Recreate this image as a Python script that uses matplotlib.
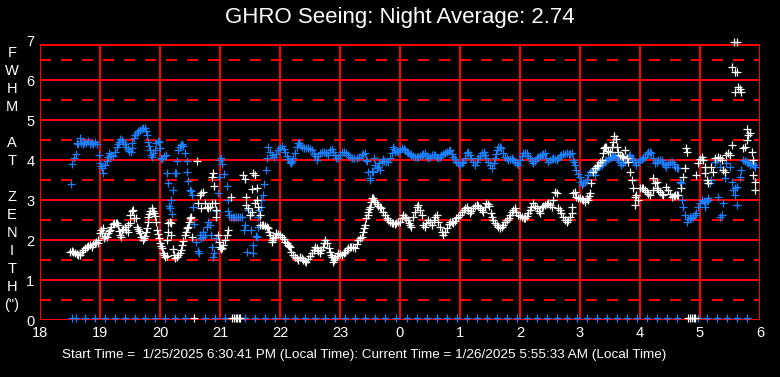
import matplotlib
matplotlib.use("Agg")
import matplotlib.pyplot as plt

plt.rcParams['font.family'] = ['Liberation Sans', 'DejaVu Sans']
plt.rcParams['lines.scale_dashes'] = False

title = "GHRO Seeing: Night Average: 2.74"
footer = "Start Time =  1/25/2025 6:30:41 PM (Local Time): Current Time = 1/26/2025 5:55:33 AM (Local Time)"
ylabel_letters = ['F', 'W', 'H', 'M', '', 'A', 'T', '', 'Z', 'E', 'N', 'I', 'T', 'H', '(")']
x_ticks = [18, 19, 20, 21, 22, 23, 24, 25, 26, 27, 28, 29, 30]
x_tick_labels = ['18', '19', '20', '21', '22', '23', '0', '1', '2', '3', '4', '5', '6']
y_ticks = [0, 1, 2, 3, 4, 5, 6, 7]

blue_pts = [
    (18.52, 3.40), (18.54, 3.90), (18.57, 4.05), (18.60, 4.15), (18.62, 4.42), (18.64, 4.40), (18.67, 4.55),
    (18.68, 4.42), (18.71, 4.40), (18.74, 4.44), (18.77, 4.42), (18.80, 4.47), (18.83, 4.40), (18.86, 4.43),
    (18.89, 4.40), (18.92, 4.45), (18.95, 4.40), (18.98, 4.12), (19.00, 3.92), (19.02, 3.85), (19.03, 3.80),
    (19.05, 3.67), (19.08, 3.87), (19.11, 3.97), (19.13, 4.08), (19.15, 4.17), (19.17, 4.10), (19.19, 4.12),
    (19.22, 4.10), (19.25, 4.20), (19.28, 4.33), (19.30, 4.40), (19.32, 4.46), (19.34, 4.52), (19.36, 4.50),
    (19.38, 4.46), (19.41, 4.40), (19.44, 4.33), (19.46, 4.27), (19.48, 4.23), (19.51, 4.21), (19.53, 4.30),
    (19.54, 4.42), (19.56, 4.55), (19.58, 4.62), (19.61, 4.67), (19.64, 4.72), (19.67, 4.75), (19.70, 4.78),
    (19.72, 4.80), (19.75, 4.80), (19.77, 4.72), (19.78, 4.62), (19.80, 4.45), (19.81, 4.35), (19.83, 4.25),
    (19.85, 4.12), (19.87, 4.08), (19.89, 4.18), (19.92, 4.25), (19.94, 4.42), (19.96, 4.48), (19.98, 4.46),
    (20.00, 4.30), (20.02, 4.05), (20.04, 4.02), (20.07, 4.10), (20.10, 4.12), (20.12, 3.67), (20.13, 3.42),
    (20.15, 2.85), (20.17, 2.80), (20.19, 3.00), (20.20, 2.65), (20.22, 3.25), (20.25, 3.68), (20.27, 3.67),
    (20.28, 3.98), (20.30, 4.25), (20.33, 4.32), (20.35, 4.38), (20.37, 4.40), (20.39, 4.35), (20.42, 4.18),
    (20.45, 3.98), (20.45, 3.70), (20.47, 3.48), (20.50, 3.25), (20.52, 3.22), (20.53, 3.12), (20.55, 2.83),
    (20.57, 2.40), (20.60, 1.95), (20.63, 1.72), (20.65, 1.67), (20.67, 2.12), (20.69, 2.04), (20.72, 2.20),
    (20.72, 2.08), (20.75, 2.12), (20.78, 2.33), (20.80, 2.45), (20.83, 2.37), (20.85, 2.12), (20.87, 1.83),
    (20.88, 1.57), (20.90, 1.67), (20.93, 2.05), (20.95, 2.72), (20.97, 3.17), (20.98, 3.57), (21.00, 4.00),
    (21.02, 4.05), (21.03, 3.90), (21.07, 3.65), (21.11, 3.35), (21.13, 3.00), (21.14, 2.72), (21.15, 2.62),
    (21.18, 2.57), (21.21, 2.57), (21.24, 2.57), (21.27, 2.57), (21.30, 2.57), (21.33, 2.57), (21.36, 2.57),
    (21.40, 2.25), (21.42, 2.37), (21.45, 1.70), (21.47, 2.75), (21.50, 2.62), (21.52, 2.25), (21.55, 1.87),
    (21.55, 1.67), (21.60, 2.10), (21.61, 2.08), (21.63, 2.33), (21.63, 2.58), (21.65, 2.75), (21.68, 2.83),
    (21.69, 3.00), (21.72, 3.12), (21.73, 3.40), (21.77, 3.75), (21.78, 4.04), (21.80, 4.33), (21.83, 4.21),
    (21.86, 4.12), (21.90, 4.08), (21.94, 4.15), (21.97, 4.25), (22.00, 4.30), (22.03, 4.35), (22.06, 4.28),
    (22.08, 4.21), (22.11, 4.10), (22.13, 4.02), (22.16, 3.95), (22.18, 3.92), (22.20, 3.98), (22.22, 4.04),
    (22.25, 4.17), (22.28, 4.33), (22.30, 4.42), (22.32, 4.43), (22.34, 4.38), (22.36, 4.33), (22.40, 4.30),
    (22.44, 4.30), (22.47, 4.30), (22.50, 4.28), (22.53, 4.25), (22.56, 4.15), (22.58, 4.10), (22.61, 4.00),
    (22.64, 4.10), (22.67, 4.17), (22.70, 4.20), (22.73, 4.21), (22.76, 4.18), (22.80, 4.12), (22.83, 4.25),
    (22.86, 4.27), (22.88, 4.21), (22.91, 4.12), (22.94, 4.05), (22.97, 4.04), (23.00, 4.12), (23.03, 4.20),
    (23.06, 4.20), (23.10, 4.17), (23.14, 4.12), (23.17, 4.08), (23.20, 4.05), (23.24, 4.04), (23.28, 4.06),
    (23.32, 4.08), (23.36, 4.12), (23.39, 4.15), (23.42, 4.17), (23.44, 4.00), (23.45, 3.98), (23.47, 3.71),
    (23.50, 3.55), (23.50, 3.50), (23.53, 3.73), (23.55, 3.71), (23.57, 4.04), (23.58, 3.88), (23.61, 3.80),
    (23.63, 3.83), (23.65, 3.92), (23.67, 3.75), (23.70, 3.95), (23.71, 4.02), (23.74, 3.98), (23.77, 3.96),
    (23.80, 3.96), (23.83, 4.05), (23.86, 4.17), (23.88, 4.33), (23.90, 4.28), (23.92, 4.21), (23.95, 4.22),
    (23.97, 4.21), (24.00, 4.25), (24.03, 4.30), (24.06, 4.28), (24.08, 4.25), (24.11, 4.20), (24.13, 4.17),
    (24.16, 4.14), (24.19, 4.12), (24.22, 4.10), (24.25, 4.08), (24.28, 4.08), (24.30, 4.08), (24.33, 4.10),
    (24.36, 4.12), (24.39, 4.15), (24.42, 4.17), (24.45, 4.10), (24.47, 4.04), (24.50, 4.08), (24.53, 4.12),
    (24.56, 4.13), (24.58, 4.12), (24.61, 4.08), (24.63, 4.04), (24.66, 4.08), (24.69, 4.12), (24.72, 4.15),
    (24.75, 4.17), (24.78, 4.20), (24.81, 4.23), (24.83, 4.25), (24.86, 4.15), (24.88, 4.08), (24.91, 4.02),
    (24.94, 3.96), (24.97, 3.92), (25.00, 3.88), (25.03, 3.92), (25.05, 3.96), (25.08, 4.06), (25.11, 4.17),
    (25.13, 4.21), (25.16, 4.12), (25.19, 4.04), (25.22, 3.96), (25.25, 3.88), (25.28, 3.96), (25.30, 4.04),
    (25.33, 4.10), (25.36, 4.17), (25.40, 4.21), (25.42, 4.12), (25.44, 4.04), (25.47, 3.96), (25.50, 3.88),
    (25.53, 3.79), (25.56, 3.92), (25.58, 4.04), (25.60, 4.15), (25.61, 4.25), (25.63, 4.33), (25.66, 4.32),
    (25.69, 4.30), (25.72, 4.18), (25.75, 4.08), (25.78, 4.04), (25.80, 4.00), (25.83, 4.02), (25.86, 4.04),
    (25.89, 4.00), (25.92, 3.96), (25.95, 3.92), (25.97, 3.88), (26.00, 4.00), (26.03, 4.10), (26.05, 4.17),
    (26.08, 4.18), (26.11, 4.17), (26.14, 4.10), (26.17, 4.04), (26.20, 3.98), (26.22, 3.92), (26.25, 3.98),
    (26.28, 4.05), (26.30, 4.08), (26.33, 4.10), (26.36, 4.12), (26.39, 4.15), (26.42, 4.17), (26.44, 4.05),
    (26.47, 3.96), (26.50, 4.00), (26.53, 4.02), (26.55, 4.04), (26.58, 4.02), (26.61, 4.00), (26.64, 4.05),
    (26.67, 4.10), (26.69, 4.12), (26.72, 4.14), (26.75, 4.15), (26.78, 4.17), (26.81, 4.16), (26.83, 4.15),
    (26.86, 4.17), (26.88, 4.00), (26.90, 3.94), (26.92, 3.88), (26.94, 3.75), (26.97, 3.65), (27.00, 3.58),
    (27.02, 3.45), (27.03, 3.38), (27.05, 3.42), (27.08, 3.46), (27.11, 3.50), (27.14, 3.62), (27.17, 3.71),
    (27.20, 3.73), (27.22, 3.75), (27.25, 3.62), (27.27, 3.75), (27.28, 3.83), (27.31, 3.85), (27.33, 3.87),
    (27.36, 3.88), (27.39, 3.93), (27.42, 3.97), (27.44, 4.00), (27.47, 4.02), (27.50, 4.04), (27.53, 4.08),
    (27.55, 4.10), (27.58, 4.12), (27.61, 4.05), (27.63, 4.00), (27.66, 3.94), (27.69, 3.88), (27.72, 3.92),
    (27.75, 3.96), (27.78, 4.04), (27.81, 4.10), (27.83, 4.12), (27.86, 4.05), (27.88, 4.00), (27.91, 3.94),
    (27.94, 3.88), (27.97, 3.94), (28.00, 4.00), (28.03, 4.03), (28.05, 4.05), (28.08, 4.08), (28.11, 4.15),
    (28.13, 4.21), (28.16, 4.20), (28.19, 4.17), (28.22, 4.05), (28.25, 3.92), (28.28, 3.96), (28.30, 4.00),
    (28.33, 4.00), (28.36, 4.00), (28.39, 3.93), (28.42, 3.87), (28.44, 3.83), (28.47, 3.90), (28.50, 3.94),
    (28.53, 3.96), (28.56, 3.90), (28.58, 3.83), (28.61, 3.81), (28.63, 3.79), (28.67, 3.45), (28.69, 3.42),
    (28.70, 3.00), (28.72, 2.83), (28.75, 2.62), (28.78, 2.46), (28.80, 2.52), (28.83, 2.58), (28.85, 2.56),
    (28.88, 2.58), (28.91, 2.62), (28.94, 2.67), (28.97, 2.83), (29.00, 2.92), (29.03, 3.00), (29.06, 2.98),
    (29.08, 2.96), (29.08, 2.83), (29.11, 2.98), (29.13, 3.00), (29.13, 3.04), (29.17, 3.42), (29.19, 3.50),
    (29.25, 3.96), (29.28, 4.00), (29.30, 3.08), (29.33, 3.83), (29.33, 2.58), (29.36, 2.62), (29.38, 2.92),
    (29.42, 3.54), (29.44, 3.92), (29.50, 3.83), (29.53, 3.46), (29.55, 3.25), (29.58, 3.30), (29.58, 3.12),
    (29.61, 3.33), (29.61, 2.88), (29.67, 3.58), (29.69, 3.75), (29.72, 4.00), (29.75, 3.98), (29.78, 3.96),
    (29.80, 3.92), (29.83, 3.88), (29.86, 3.90), (29.88, 3.92), (29.90, 3.87), (29.92, 3.83),
]

white_pts = [
    (18.50, 1.71), (18.53, 1.72), (18.55, 1.70), (18.58, 1.68), (18.61, 1.65), (18.64, 1.62), (18.67, 1.63),
    (18.70, 1.70), (18.72, 1.75), (18.75, 1.80), (18.78, 1.83), (18.80, 1.85), (18.83, 1.87), (18.86, 1.82),
    (18.88, 1.90), (18.91, 1.92), (18.94, 1.96), (18.96, 2.00), (18.97, 1.92), (19.00, 2.17), (19.01, 2.25),
    (19.03, 2.17), (19.05, 2.29), (19.07, 2.05), (19.09, 2.10), (19.11, 2.08), (19.13, 2.17), (19.15, 2.22),
    (19.17, 2.25), (19.19, 2.33), (19.21, 2.40), (19.23, 2.42), (19.26, 2.42), (19.28, 2.42), (19.30, 2.37),
    (19.32, 2.22), (19.33, 2.12), (19.35, 2.08), (19.36, 2.25), (19.39, 2.27), (19.42, 2.33), (19.44, 2.25),
    (19.47, 2.20), (19.47, 2.37), (19.50, 2.42), (19.50, 2.62), (19.53, 2.72), (19.55, 2.75), (19.57, 2.54),
    (19.60, 2.54), (19.61, 2.33), (19.63, 2.27), (19.65, 2.22), (19.67, 2.17), (19.69, 2.08), (19.72, 2.00),
    (19.73, 2.04), (19.75, 2.10), (19.77, 2.20), (19.78, 2.29), (19.80, 2.46), (19.80, 2.58), (19.82, 2.65),
    (19.84, 2.72), (19.86, 2.79), (19.88, 2.73), (19.90, 2.67), (19.92, 2.60), (19.94, 2.46), (19.95, 2.25),
    (19.97, 2.15), (19.98, 2.05), (20.00, 1.92), (20.01, 1.85), (20.03, 1.80), (20.05, 1.67), (20.07, 1.62),
    (20.09, 1.58), (20.11, 1.60), (20.11, 2.00), (20.13, 2.21), (20.13, 2.42), (20.17, 2.46), (20.19, 2.42),
    (20.19, 2.12), (20.22, 1.77), (20.24, 1.62), (20.25, 1.54), (20.28, 1.58), (20.30, 1.62), (20.33, 1.67),
    (20.35, 1.75), (20.36, 1.87), (20.38, 1.97), (20.42, 2.12), (20.44, 2.21), (20.45, 2.29), (20.47, 2.33),
    (20.48, 2.45), (20.50, 2.54), (20.52, 2.58), (20.53, 2.08), (20.61, 3.97), (20.63, 2.92), (20.67, 3.12),
    (20.69, 3.17), (20.69, 2.79), (20.72, 3.21), (20.75, 2.92), (20.78, 2.83), (20.80, 2.79), (20.83, 2.83),
    (20.86, 2.92), (20.86, 3.58), (20.88, 3.68), (20.90, 3.35), (20.92, 2.92), (20.94, 2.75), (20.94, 2.58),
    (20.97, 2.12), (20.99, 1.95), (21.00, 1.83), (21.02, 1.78), (21.03, 1.80), (21.05, 1.87), (21.08, 2.00),
    (21.11, 2.12), (21.13, 2.25), (21.19, 3.08), (21.39, 3.62), (21.42, 3.52), (21.44, 2.88), (21.44, 3.08),
    (21.47, 2.80), (21.50, 2.62), (21.53, 2.71), (21.53, 3.27), (21.55, 3.68), (21.58, 3.62), (21.58, 2.92),
    (21.61, 3.00), (21.61, 3.29), (21.63, 2.83), (21.66, 2.62), (21.67, 2.37), (21.70, 2.37), (21.72, 2.37),
    (21.75, 2.35), (21.78, 2.33), (21.80, 2.29), (21.82, 2.20), (21.83, 2.12), (21.86, 2.00), (21.86, 1.96),
    (21.89, 2.05), (21.92, 2.08), (21.94, 2.17), (21.97, 2.14), (22.00, 2.12), (22.03, 2.08), (22.06, 2.02),
    (22.08, 1.96), (22.11, 1.92), (22.13, 1.87), (22.15, 1.85), (22.17, 1.83), (22.19, 1.71), (22.22, 1.62),
    (22.25, 1.58), (22.28, 1.54), (22.30, 1.50), (22.33, 1.58), (22.36, 1.54), (22.39, 1.50), (22.42, 1.48),
    (22.44, 1.46), (22.47, 1.52), (22.50, 1.60), (22.53, 1.67), (22.56, 1.75), (22.58, 1.83), (22.61, 1.80),
    (22.64, 1.73), (22.67, 1.67), (22.69, 1.75), (22.72, 1.83), (22.74, 1.92), (22.75, 2.00), (22.78, 1.92),
    (22.81, 1.80), (22.83, 1.71), (22.85, 1.63), (22.86, 1.58), (22.88, 1.46), (22.90, 1.50), (22.92, 1.54),
    (22.95, 1.60), (22.97, 1.67), (23.00, 1.65), (23.03, 1.62), (23.06, 1.67), (23.08, 1.71), (23.11, 1.76),
    (23.13, 1.80), (23.16, 1.82), (23.19, 1.83), (23.22, 1.82), (23.25, 1.80), (23.28, 1.90), (23.30, 2.00),
    (23.33, 2.04), (23.36, 2.08), (23.38, 2.21), (23.40, 2.30), (23.42, 2.37), (23.44, 2.54), (23.46, 2.62),
    (23.47, 2.71), (23.49, 2.78), (23.50, 2.83), (23.52, 2.95), (23.53, 3.05), (23.55, 3.04), (23.56, 3.00),
    (23.58, 2.96), (23.61, 2.90), (23.63, 2.85), (23.66, 2.82), (23.69, 2.79), (23.72, 2.71), (23.75, 2.62),
    (23.78, 2.54), (23.80, 2.50), (23.83, 2.46), (23.86, 2.43), (23.88, 2.42), (23.91, 2.41), (23.94, 2.42),
    (23.97, 2.44), (24.00, 2.46), (24.03, 2.54), (24.05, 2.62), (24.08, 2.58), (24.10, 2.54), (24.13, 2.50),
    (24.15, 2.42), (24.17, 2.37), (24.19, 2.33), (24.22, 2.58), (24.25, 2.71), (24.28, 2.82), (24.30, 2.88),
    (24.33, 2.75), (24.36, 2.62), (24.38, 2.37), (24.42, 2.33), (24.44, 2.42), (24.47, 2.50), (24.50, 2.45),
    (24.53, 2.37), (24.56, 2.50), (24.58, 2.58), (24.61, 2.62), (24.64, 2.45), (24.67, 2.33), (24.70, 2.20),
    (24.72, 2.12), (24.75, 2.21), (24.78, 2.30), (24.81, 2.40), (24.83, 2.46), (24.86, 2.44), (24.88, 2.42),
    (24.91, 2.48), (24.94, 2.54), (24.97, 2.58), (25.00, 2.62), (25.03, 2.70), (25.06, 2.75), (25.08, 2.80),
    (25.11, 2.83), (25.14, 2.75), (25.17, 2.67), (25.19, 2.73), (25.22, 2.79), (25.25, 2.84), (25.28, 2.88),
    (25.30, 2.84), (25.33, 2.79), (25.36, 2.75), (25.38, 2.71), (25.41, 2.82), (25.43, 2.92), (25.46, 2.89),
    (25.48, 2.85), (25.51, 2.67), (25.53, 2.58), (25.55, 2.50), (25.58, 2.43), (25.61, 2.37), (25.64, 2.33),
    (25.67, 2.29), (25.70, 2.33), (25.72, 2.37), (25.75, 2.44), (25.78, 2.50), (25.81, 2.56), (25.83, 2.62),
    (25.86, 2.69), (25.88, 2.75), (25.92, 2.79), (25.94, 2.70), (25.97, 2.62), (26.00, 2.60), (26.03, 2.58),
    (26.06, 2.56), (26.08, 2.54), (26.11, 2.60), (26.13, 2.67), (26.16, 2.75), (26.19, 2.83), (26.22, 2.92),
    (26.25, 2.85), (26.28, 2.79), (26.31, 2.73), (26.33, 2.67), (26.36, 2.83), (26.39, 2.86), (26.42, 2.88),
    (26.45, 2.90), (26.47, 2.92), (26.50, 2.88), (26.53, 2.83), (26.55, 3.00), (26.58, 3.21), (26.61, 3.17),
    (26.64, 2.80), (26.67, 2.75), (26.69, 2.67), (26.72, 2.58), (26.75, 2.50), (26.78, 2.46), (26.80, 2.50),
    (26.83, 2.58), (26.86, 2.67), (26.86, 2.83), (26.88, 3.17), (26.92, 3.21), (26.94, 3.08), (26.97, 3.06),
    (27.00, 3.04), (27.03, 3.02), (27.05, 3.00), (27.08, 2.96), (27.11, 3.04), (27.13, 3.00), (27.15, 3.10),
    (27.17, 3.17), (27.19, 3.42), (27.22, 3.71), (27.25, 3.79), (27.28, 3.84), (27.30, 3.88), (27.33, 3.94),
    (27.36, 4.00), (27.38, 4.17), (27.40, 4.30), (27.42, 4.33), (27.44, 4.33), (27.47, 4.23), (27.50, 4.21),
    (27.53, 4.33), (27.55, 4.45), (27.57, 4.60), (27.60, 4.52), (27.62, 4.33), (27.64, 4.20), (27.67, 4.12),
    (27.70, 4.10), (27.72, 4.08), (27.75, 4.25), (27.78, 4.04), (27.80, 3.96), (27.83, 3.71), (27.86, 3.50),
    (27.88, 3.29), (27.92, 3.08), (27.92, 2.88), (27.94, 3.12), (27.97, 3.00), (28.00, 3.29), (28.03, 3.30),
    (28.05, 3.29), (28.08, 3.25), (28.11, 3.21), (28.14, 3.16), (28.17, 3.12), (28.22, 3.54), (28.25, 3.42),
    (28.28, 3.46), (28.22, 3.25), (28.28, 3.29), (28.30, 3.25), (28.33, 3.21), (28.36, 3.16), (28.38, 3.12),
    (28.44, 3.33), (28.47, 3.25), (28.50, 3.15), (28.53, 3.08), (28.56, 3.10), (28.58, 3.12), (28.61, 3.12),
    (28.63, 3.12), (28.69, 3.29), (28.72, 3.58), (28.75, 3.79), (28.77, 4.30), (28.78, 4.21), (28.94, 3.62),
    (28.97, 3.92), (29.00, 4.02), (29.03, 4.08), (29.05, 4.00), (29.08, 3.83), (29.08, 3.67), (29.11, 3.50),
    (29.13, 3.42), (29.19, 3.83), (29.22, 3.71), (29.25, 4.04), (29.30, 4.08), (29.33, 4.04), (29.36, 4.00),
    (29.38, 3.75), (29.42, 3.71), (29.44, 4.12), (29.47, 4.17), (29.50, 4.12), (29.53, 4.38), (29.54, 6.32),
    (29.56, 6.94), (29.58, 6.21), (29.58, 5.71), (29.61, 6.94), (29.62, 6.21), (29.64, 5.82), (29.67, 5.77),
    (29.69, 5.71), (29.72, 4.30), (29.75, 4.33), (29.78, 4.50), (29.78, 4.77), (29.80, 4.62), (29.83, 4.67),
    (29.86, 4.21), (29.88, 4.00), (29.88, 3.62), (29.92, 3.46), (29.92, 3.25),
]

blue_zero_x = [18.53, 18.60, 18.75, 18.92, 19.08, 19.25, 19.42, 19.58, 19.75, 19.92, 20.08, 20.25, 20.42,
               20.75, 20.92, 21.08, 21.42, 21.58, 21.75, 21.92, 22.08, 22.25, 22.42, 22.58, 22.75, 22.92,
               23.08, 23.25, 23.42, 23.58, 23.75, 23.93, 24.12, 24.29, 24.45, 24.62, 24.79, 24.95, 25.12,
               25.29, 25.45, 25.62, 25.79, 25.95, 26.12, 26.29, 26.45, 26.62, 26.79, 26.95, 27.12, 27.29,
               27.45, 27.62, 27.79, 27.95, 28.12, 28.29, 28.45, 28.62, 28.97, 29.12, 29.29, 29.45, 29.62,
               29.79]
white_zero_x = [20.57, 21.20, 21.23, 21.26, 21.29, 21.32, 21.34, 28.80, 28.84, 28.87, 28.90, 28.92]

RED = '#ff0000'
BLUE = '#1a80ff'

fig = plt.figure(figsize=(7.8, 3.77), dpi=100, facecolor='black')
ax = fig.add_axes([40 / 780, 57 / 377, 720 / 780, 280 / 377])
ax.set_facecolor('black')
ax.set_xlim(18, 30)
ax.set_ylim(0, 7)
for s in ax.spines.values():
    s.set_visible(False)

top = 6.875
lw = 1.44
ax.vlines(x_ticks, 0, top, colors=RED, linewidth=lw, zorder=1, antialiased=False)
ax.hlines([0, 1, 2, 3, 4, 5, 6, top], 18, 30, colors=RED, linewidth=lw, zorder=1, antialiased=False)
ax.hlines([0.5, 1.5, 2.5, 3.5, 4.5, 5.5, 6.5], 18, 30, colors=RED, linewidth=lw,
          linestyles=[(0, (7.2, 7.2))], zorder=1, antialiased=False)

bx = [p[0] for p in blue_pts]
by = [p[1] for p in blue_pts]
wx = [p[0] for p in white_pts]
wy = [p[1] for p in white_pts]

mk = dict(marker='+', linestyle='none', markersize=5.3, markeredgewidth=0.9, clip_on=False)
ax.plot(bx, by, color=BLUE, zorder=3, **mk)
ax.plot(blue_zero_x, [0.05] * len(blue_zero_x), color=BLUE, zorder=3, **mk)
ax.plot(wx, wy, color='white', zorder=4, **mk)
ax.plot(white_zero_x, [0.05] * len(white_zero_x), color='white', zorder=4, **mk)

ax.set_xticks(x_ticks)
ax.set_xticklabels(x_tick_labels)
ax.set_yticks(y_ticks)
ax.set_yticklabels([str(v) for v in y_ticks])
ax.tick_params(length=0, colors='white', labelsize=10.5, pad=4)

fig.text(400 / 780, 1 - 18 / 377, title, color='white', fontsize=16, ha='center', va='center')
fig.text(62 / 780, 1 - 355 / 377, footer, color='white', fontsize=9.7, ha='left', va='center')
for i, ch in enumerate(ylabel_letters):
    if ch:
        fig.text(12 / 780, 1 - (53 + 18 * i) / 377, ch, color='white', fontsize=10.5,
                 ha='center', va='center')

fig.savefig('out.png', dpi=100, facecolor='black')
